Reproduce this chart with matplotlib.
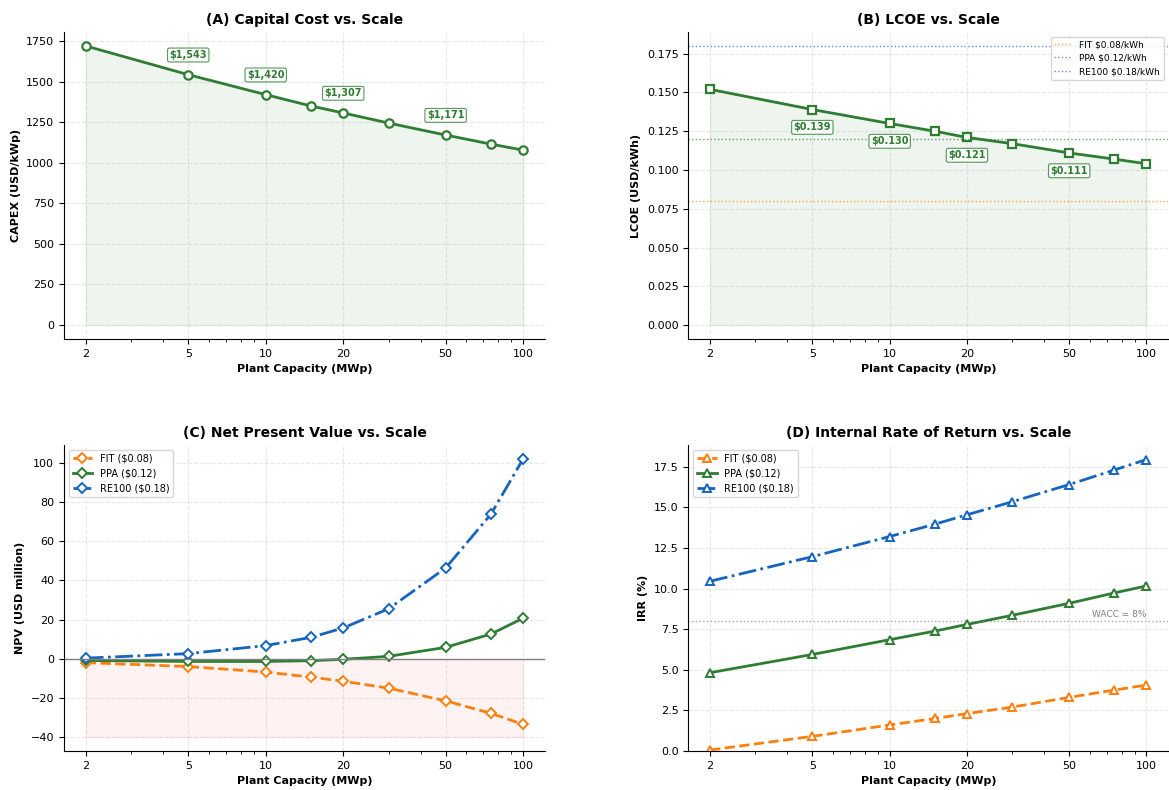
import numpy as np
import matplotlib
matplotlib.use('Agg')
import matplotlib.pyplot as plt
from matplotlib.ticker import ScalarFormatter, FixedLocator

# data
capacity = [2, 5, 10, 15, 20, 30, 50, 75, 100]
capex = [1720, 1543, 1420, 1350, 1307, 1245, 1171, 1115, 1078]
lcoe = [0.152, 0.139, 0.130, 0.125, 0.121, 0.117, 0.111, 0.107, 0.104]
npv_fit = [-2.0, -4.0, -6.8, -9.4, -11.5, -15.0, -21.5, -27.9, -33.5]
npv_ppa = [-0.9, -1.4, -1.4, -1.0, -0.3, 1.2, 5.8, 12.6, 20.7]
npv_re100 = [0.3, 2.6, 6.7, 10.9, 15.7, 25.5, 46.3, 73.8, 102.0]
irr_fit = [0.06, 0.9, 1.6, 2.0, 2.3, 2.7, 3.3, 3.75, 4.06]
irr_ppa = [4.82, 5.94, 6.85, 7.38, 7.79, 8.35, 9.09, 9.73, 10.16]
irr_re100 = [10.45, 11.96, 13.2, 13.96, 14.54, 15.34, 16.4, 17.3, 17.94]
tariffs = [0.08, 0.12, 0.18]
tariff_names = ['FIT', 'PPA', 'RE100']
wacc = 8
label_idx = [1, 2, 4, 6]   # 5, 10, 20, 50 MWp

GREEN = '#2e7d32'
ORANGE = '#ff7f0e'
BLUE = '#1565c0'
cols = [ORANGE, GREEN, BLUE]

plt.rcParams['font.family'] = 'DejaVu Sans'
plt.rcParams['font.size'] = 8

fig = plt.figure(figsize=(11.69, 7.9), dpi=100)
axA = fig.add_axes([0.0547, 0.5709, 0.4115, 0.3886])
axB = fig.add_axes([0.5888, 0.5709, 0.4106, 0.3886])
axC = fig.add_axes([0.0547, 0.0494, 0.4115, 0.3873])
axD = fig.add_axes([0.5888, 0.0494, 0.4106, 0.3873])


def style(ax, title, ylabel):
    ax.set_xscale('log')
    ax.xaxis.set_major_locator(FixedLocator([2, 5, 10, 20, 50, 100]))
    ax.xaxis.set_major_formatter(ScalarFormatter())
    ax.set_title(title, fontsize=10, fontweight='bold')
    ax.set_xlabel('Plant Capacity (MWp)', fontsize=8, fontweight='bold')
    ax.set_ylabel(ylabel, fontsize=8, fontweight='bold')
    ax.grid(True, which='major', linestyle='--', alpha=0.3)
    ax.spines['top'].set_visible(False)
    ax.spines['right'].set_visible(False)
    ax.tick_params(labelsize=8)


# (A) CAPEX
axA.plot(capacity, capex, 'o-', color=GREEN, lw=2, ms=6,
         mfc='white', mec=GREEN, mew=1.6)
axA.fill_between(capacity, 0, capex, color=GREEN, alpha=0.08)
for i in label_idx:
    axA.annotate(f'${capex[i]:,}', (capacity[i], capex[i]),
                 textcoords='offset points', xytext=(0, 12), ha='center',
                 fontsize=7, fontweight='bold', color=GREEN,
                 bbox=dict(boxstyle='round,pad=0.2', fc='white', ec=GREEN, alpha=0.8, lw=0.8))
style(axA, '(A) Capital Cost vs. Scale', 'CAPEX (USD/kWp)')

# (B) LCOE
axB.plot(capacity, lcoe, 's-', color=GREEN, lw=2, ms=6,
         mfc='white', mec=GREEN, mew=1.6)
axB.fill_between(capacity, 0, lcoe, color=GREEN, alpha=0.08)
for t, n, c in zip(tariffs, tariff_names, cols):
    axB.axhline(t, color=c, ls=':', lw=1, alpha=0.7, label=f'{n} ${t:.2f}/kWh')
for i in label_idx:
    axB.annotate(f'${lcoe[i]:.3f}', (capacity[i], lcoe[i]),
                 textcoords='offset points', xytext=(0, -15), ha='center',
                 fontsize=7, fontweight='bold', color=GREEN,
                 bbox=dict(boxstyle='round,pad=0.2', fc='white', ec=GREEN, alpha=0.8, lw=0.8))
axB.legend(loc='upper right', fontsize=6.5)
style(axB, '(B) LCOE vs. Scale', 'LCOE (USD/kWh)')

# (C) NPV
axC.plot(capacity, npv_fit, 'D--', color=ORANGE, lw=2, ms=5.5, mfc='white', mew=1.4,
         label='FIT ($0.08)')
axC.plot(capacity, npv_ppa, 'D-', color=GREEN, lw=2, ms=5.5, mfc='white', mew=1.4,
         label='PPA ($0.12)')
axC.plot(capacity, npv_re100, 'D-.', color=BLUE, lw=2, ms=5.5, mfc='white', mew=1.4,
         label='RE100 ($0.18)')
axC.axhline(0, color='gray', lw=1)
axC.fill_between(capacity, -40, 0, color='red', alpha=0.05)
axC.legend(loc='upper left', fontsize=7)
style(axC, '(C) Net Present Value vs. Scale', 'NPV (USD million)')

# (D) IRR
axD.plot(capacity, irr_fit, '^--', color=ORANGE, lw=2, ms=5.5, mfc='white', mew=1.4,
         label='FIT ($0.08)')
axD.plot(capacity, irr_ppa, '^-', color=GREEN, lw=2, ms=5.5, mfc='white', mew=1.4,
         label='PPA ($0.12)')
axD.plot(capacity, irr_re100, '^-.', color=BLUE, lw=2, ms=5.5, mfc='white', mew=1.4,
         label='RE100 ($0.18)')
axD.axhline(wacc, color='gray', ls=':', lw=1, alpha=0.7)
axD.text(100, wacc + 0.15, f'WACC = {wacc}%', ha='right', va='bottom',
         fontsize=6.5, color='gray')
axD.set_ylim(bottom=0)
axD.legend(loc='upper left', fontsize=7)
style(axD, '(D) Internal Rate of Return vs. Scale', 'IRR (%)')

fig.savefig('out.png', dpi=100)
